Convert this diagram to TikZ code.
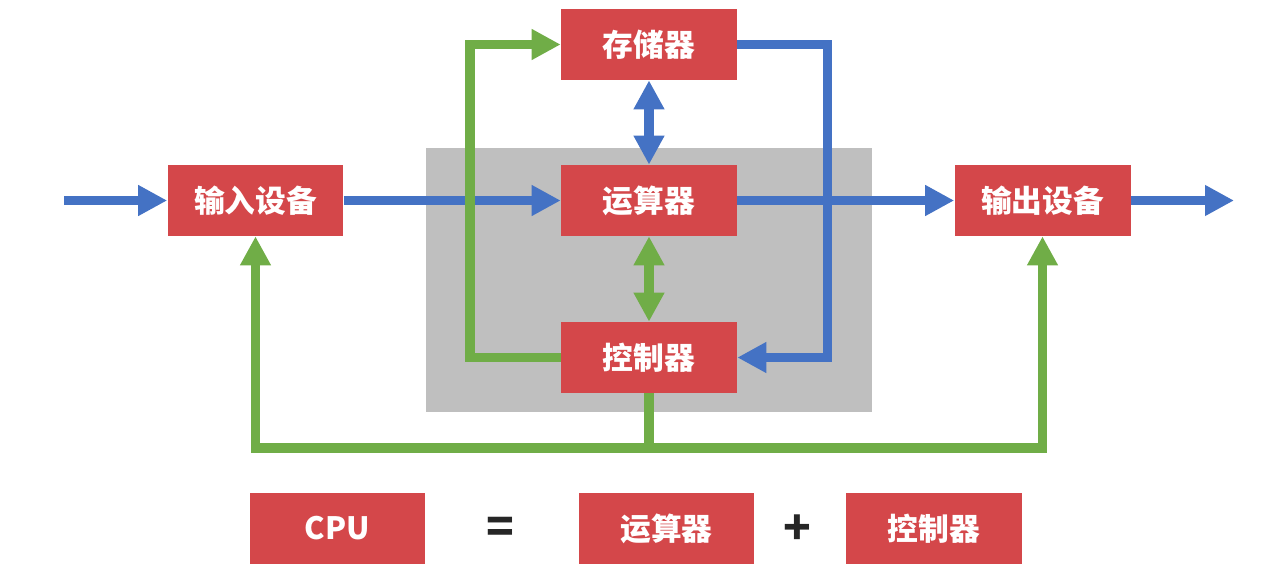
\documentclass[tikz,border=0pt]{standalone}
\usepackage{fontspec}
\setmainfont{Noto Sans CJK SC}
\usepackage{tikz}
\usetikzlibrary{arrows.meta}
\definecolor{boxred}{RGB}{212,71,74}
\definecolor{lineblue}{RGB}{68,114,196}
\definecolor{linegreen}{RGB}{112,173,71}
\definecolor{cpugray}{RGB}{191,191,191}

\begin{document}
\begin{tikzpicture}[x=0.02cm,y=-0.02cm,
  box/.style={fill=boxred,text=white,font=\fontsize{17.5}{20}\selectfont\bfseries,
    minimum width=3.52cm,minimum height=1.42cm,inner sep=0pt},
  tip/.style={-{Triangle[length=0.58cm,width=0.58cm]}},
  both/.style={{Triangle[length=0.58cm,width=0.58cm]}-{Triangle[length=0.58cm,width=0.58cm]}},
  blueline/.style={draw=lineblue,line width=5.5pt},
  greenline/.style={draw=linegreen,line width=5.5pt},
  sign/.style={font=\fontsize{26}{30}\selectfont\bfseries,text=black!85}]
\useasboundingbox (0,0) rectangle (1267,578);
\fill[cpugray] (426,148) rectangle (872,412);
\node[box] (mem) at (649,44.5) {存储器};
\node[box] (alu) at (649,200.5) {运算器};
\node[box] (ctl) at (649,357.5) {控制器};
\node[box] (in) at (255.5,200.5) {输入设备};
\node[box] (out) at (1042.5,200.5) {输出设备};
\coordinate (src) at (64,200.5);
\coordinate (snk) at (1234,200.5);
\coordinate (bus) at (649,448);
\draw[blueline,tip] (src) -- (in);
\draw[blueline,tip] (in) -- (alu);
\draw[blueline,tip] (alu) -- (out);
\draw[blueline,tip] (out) -- (snk);
\draw[blueline,tip] (mem.east) -- ++(90,0) |- (ctl.east);
\draw[blueline,both] (mem) -- (alu);
\draw[greenline,both] (alu) -- (ctl);
\draw[greenline,tip] (ctl.west) -- ++(-91,0) |- (mem.west);
\draw[greenline,tip] (ctl.south) -- (bus) -| (in.south);
\draw[greenline,tip] (bus) -| (out.south);
\node[box] (cpu) at (337.5,528.5) {CPU};
\node[sign] (eq) at (500,530) {=};
\node[box] (alu2) at (666.5,528.5) {运算器};
\node[sign] (plus) at (797,530) {+};
\node[box] (ctl2) at (934,528.5) {控制器};
\end{tikzpicture}
\end{document}
